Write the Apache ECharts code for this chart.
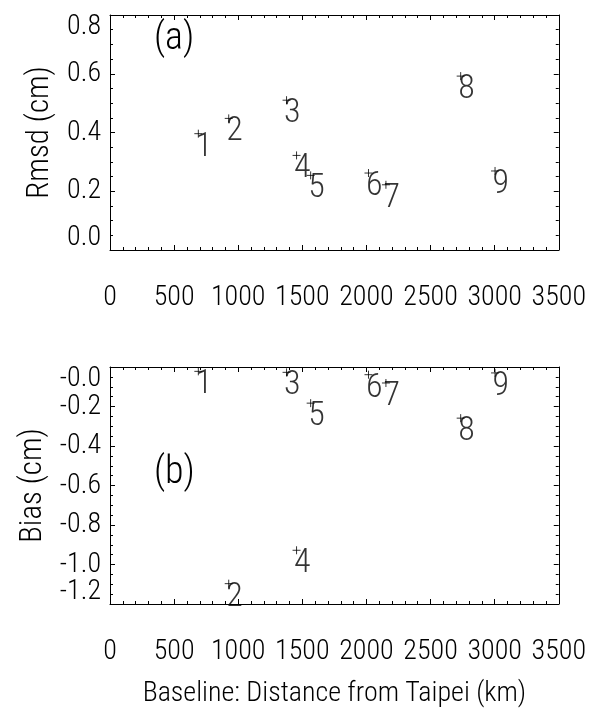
<!DOCTYPE html>
<html><head><meta charset="utf-8">
<script src="https://cdn.jsdelivr.net/npm/echarts@6/dist/echarts.min.js"></script>
<style>html,body{margin:0;padding:0;background:#fff}#c{width:589px;height:723px}</style>
</head><body><div id="c"></div>
<script>
// ---- data ----
const stations = ['1', '2', '3', '4', '5', '6', '7', '8', '9'];
const distanceKm = [689, 926, 1377, 1455, 1565, 2016, 2152, 2735, 3003];
const rmsdCm = [0.396, 0.448, 0.510, 0.322, 0.254, 0.262, 0.222, 0.592, 0.269];
const biasCm = [-0.022, -1.097, -0.027, -0.928, -0.183, -0.039, -0.081, -0.259, -0.030];
const xTickLabels = ['0', '500', '1000', '1500', '2000', '2500', '3000', '3500'];
const rmsdTickLabels = ['0.0', '0.2', '0.4', '0.6', '0.8'];
const biasTickLabels = ['-1.2', '-1.0', '-0.8', '-0.6', '-0.4', '-0.2', '-0.0'];
const panelLabels = ['(a)', '(b)'];
const xName = 'Baseline: Distance from Taipei (km)';
const yNames = ['Rmsd (cm)', 'Bias (cm)'];

// ---- style ----
const FONT = "'Roboto Condensed','Liberation Sans Narrow','DejaVu Sans Condensed','Liberation Sans',sans-serif";
const FW = 300;
const INK = '#000';
const lineS = { color: INK, width: 1 };

function xAxis(grid, pos, showLabels, name) {
  return {
    type: 'value', gridIndex: grid, position: pos, min: 0, max: 3500, interval: 500,
    axisLine: { show: true, onZero: false, lineStyle: lineS },
    axisTick: { show: true, inside: true, length: 5, lineStyle: lineS },
    minorTick: { show: true, splitNumber: 5, length: 3, lineStyle: lineS },
    splitLine: { show: false },
    axisLabel: {
      show: showLabels, margin: 34, fontSize: 28, fontWeight: FW, fontFamily: FONT, color: INK,
      showMinLabel: true, showMaxLabel: true, hideOverlap: false,
      formatter: v => xTickLabels[Math.round(v / 500)]
    },
    name: name || '', nameLocation: 'middle', nameGap: 76,
    nameTextStyle: { fontSize: 28, fontWeight: FW, fontFamily: FONT, color: INK }
  };
}
// which: 'all' | 'inner' | 'ends' | 'none'
function yAxis(grid, pos, which, min, max, labels, name) {
  const isEnd = v => Math.abs(v - min) < 1e-6 || Math.abs(v - max) < 1e-6;
  const bare = which === 'ends';
  return {
    type: 'value', gridIndex: grid, position: pos, min: min, max: max, interval: 0.2,
    axisLine: { show: !bare, onZero: false, lineStyle: lineS },
    axisTick: { show: !bare, inside: true, length: 5, lineStyle: lineS },
    minorTick: { show: !bare, splitNumber: 4, length: 3, lineStyle: lineS },
    splitLine: { show: false },
    axisLabel: {
      show: which !== 'none', margin: 9, fontSize: 28, lineHeight: 24, fontWeight: FW, fontFamily: FONT, color: INK,
      showMinLabel: true, showMaxLabel: true, hideOverlap: false,
      verticalAlignMinLabel: 'bottom', verticalAlignMaxLabel: 'top',
      formatter: v => {
        if (which === 'inner' && isEnd(v)) return '';
        if (which === 'ends' && !isEnd(v)) return '';
        return labels[Math.round((v - min) / 0.2)];
      }
    },
    name: name || '', nameLocation: 'middle', nameGap: 46,
    nameTextStyle: { fontSize: 31, fontWeight: FW, fontFamily: FONT, color: INK }
  };
}
function pts(ys) { return distanceKm.map((x, i) => [x, ys[i], stations[i]]); }
function scatter(xi, yi, ys) {
  return {
    type: 'scatter', xAxisIndex: xi, yAxisIndex: yi, data: pts(ys),
    symbol: 'path://M0,5L10,5M5,0L5,10', symbolSize: 8,
    itemStyle: { color: 'none', borderColor: INK, borderWidth: 1 },
    label: {
      show: true, formatter: p => p.data[2], position: [4, 3],
      align: 'left', verticalAlign: 'top', fontSize: 34, fontWeight: FW, fontFamily: FONT, color: INK
    },
    emphasis: { disabled: true }
  };
}

const chart = echarts.init(document.getElementById('c'));
chart.setOption({
  animation: false,
  backgroundColor: '#fff',
  title: [
    { text: panelLabels[0], left: 154, top: 20, padding: 0, textStyle: { fontSize: 38, fontWeight: FW, fontFamily: FONT, color: INK } },
    { text: panelLabels[1], left: 154, top: 454, padding: 0, textStyle: { fontSize: 38, fontWeight: FW, fontFamily: FONT, color: INK } }
  ],
  grid: [
    { left: 110, top: 15, width: 451, height: 235 },
    { left: 110, top: 367, width: 449, height: 237 }
  ],
  xAxis: [
    xAxis(0, 'bottom', true), xAxis(0, 'top', false),
    xAxis(1, 'bottom', true, xName), xAxis(1, 'top', false)
  ],
  yAxis: [
    yAxis(0, 'left', 'all', 0, 0.8, rmsdTickLabels, yNames[0]), yAxis(0, 'right', 'none', 0, 0.8, rmsdTickLabels),
    yAxis(1, 'left', 'inner', -1.2, 0, biasTickLabels, yNames[1]), yAxis(1, 'right', 'none', -1.2, 0, biasTickLabels),
    yAxis(1, 'left', 'ends', -1.2, 0, biasTickLabels)
  ],
  series: [scatter(0, 0, rmsdCm), scatter(2, 2, biasCm)]
});
</script></body></html>
